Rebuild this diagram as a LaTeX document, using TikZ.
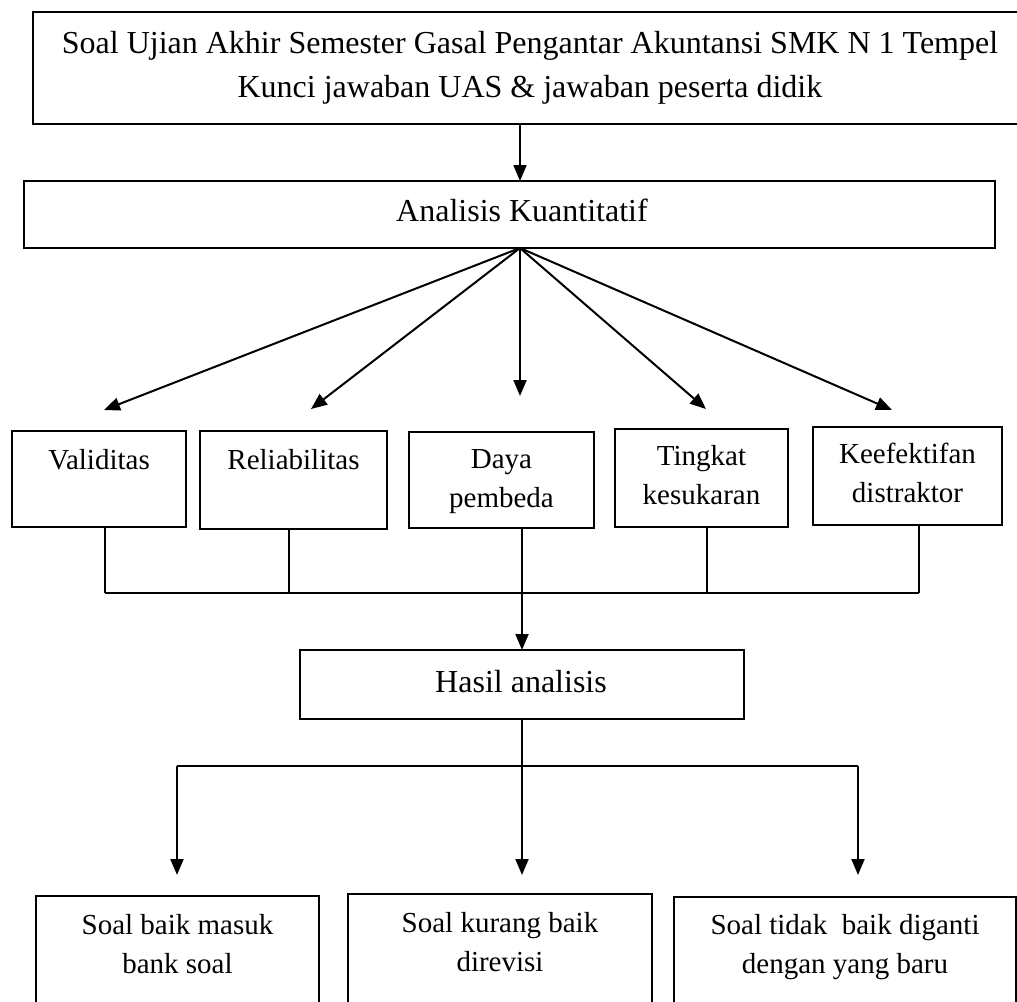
\documentclass[tikz,border=0pt]{standalone}
\usepackage{fontspec}
\setmainfont{Liberation Serif}
\usetikzlibrary{arrows.meta,calc}
\newcommand\twolines[2]{\begin{tabular}[t]{@{}c@{}}#1\\#2\end{tabular}}
\begin{document}
\begin{tikzpicture}[x=1pt,y=-1pt,
  box/.style={draw=black,line width=1.5pt,rectangle,inner sep=0pt,outer sep=0pt},
  big/.style={font=\fontsize{32}{44}\selectfont,inner sep=0pt,anchor=base},
  small/.style={font=\fontsize{29}{39}\selectfont,inner sep=0pt,anchor=base},
  arr/.style={line width=2pt,-{Triangle[length=16pt,width=13pt]}},
  ln/.style={line width=1.5pt}]
\useasboundingbox (0,0) rectangle (1017,1001);
\clip (0,0) rectangle (1017,1001);
\fill[white] (0,0) rectangle (1017,1001);
% boxes
\node[box,minimum width=994pt,minimum height=112pt] (top) at (530,68) {};
\node[box,minimum width=971pt,minimum height=67pt] (ana) at (509.5,214.5) {};
\node[box,minimum width=174pt,minimum height=96pt] (val) at (99,479) {};
\node[box,minimum width=187pt,minimum height=98pt] (rel) at (293.5,480) {};
\node[box,minimum width=185pt,minimum height=96pt] (daya) at (501.5,480) {};
\node[box,minimum width=173pt,minimum height=98pt] (ting) at (701.5,478) {};
\node[box,minimum width=189pt,minimum height=98pt] (keef) at (907.5,476) {};
\node[box,minimum width=444pt,minimum height=69pt] (hasil) at (522,684.5) {};
\node[box,minimum width=283pt,minimum height=124pt] (b1) at (177.5,958) {};
\node[box,minimum width=304pt,minimum height=126pt] (b2) at (500,957) {};
\node[box,minimum width=342pt,minimum height=123pt] (b3) at (845,958.5) {};
% texts
\node[big] (toptxt) at (530,53) {\twolines{Soal Ujian Akhir Semester Gasal Pengantar Akuntansi SMK N 1 Tempel}{Kunci jawaban UAS \& jawaban peserta didik}};
\node[big] (anatxt) at (522,221) {Analisis Kuantitatif};
\node[small] (valtxt) at (99,469) {Validitas};
\node[small] (reltxt) at (293.5,469) {Reliabilitas};
\node[small] (dayatxt) at (501.5,468) {\twolines{Daya}{pembeda}};
\node[small] (tingtxt) at (701.5,465) {\twolines{Tingkat}{kesukaran}};
\node[small] (keeftxt) at (907.5,463) {\twolines{Keefektifan}{distraktor}};
\node[big] (hasiltxt) at (521,692) {Hasil analisis};
\node[small] (b1txt) at (177.5,934) {\twolines{Soal baik masuk}{bank soal}};
\node[small] (b2txt) at (500,932) {\twolines{Soal kurang baik}{direvisi}};
\node[small] (b3txt) at (845,934) {\twolines{Soal tidak~ baik diganti}{dengan yang baru}};
% coordinates
\coordinate (fan) at (520,248);
\coordinate (t1) at (104,410);
\coordinate (t2) at (311,409);
\coordinate (t3) at (520,396);
\coordinate (t4) at (706,409);
\coordinate (t5) at (892,410);
\coordinate (busL) at (105,593);
\coordinate (busR) at (919,593);
\coordinate (sL) at (177,766);
\coordinate (sR) at (858,766);
\coordinate (tipy) at (0,875);
% top arrow
\draw[arr] (top.south -| fan) -- (ana.north -| fan);
% fan
\foreach \t in {t1,t2,t3,t4,t5} \draw[arr] (fan) -- (\t);
% drops and bus
\draw[ln] ([xshift=6pt]val.south) -- ++(0,66);
\draw[ln] ([xshift=-4.5pt]rel.south) -- ++(0,64);
\draw[ln] ([xshift=5.5pt]ting.south) -- ++(0,66);
\draw[ln] ([xshift=11.5pt]keef.south) -- ++(0,68);
\draw[ln] (busL) -- (busR);
\draw[arr] (hasil.north |- daya.south) -- (hasil.north);
% hasil split
\draw[ln] (sL) -- (sR);
\draw[arr] (hasil.south) -- (hasil.south |- tipy);
\draw[arr] (sL) -- (sL |- tipy);
\draw[arr] (sR) -- (sR |- tipy);
\end{tikzpicture}
\end{document}
